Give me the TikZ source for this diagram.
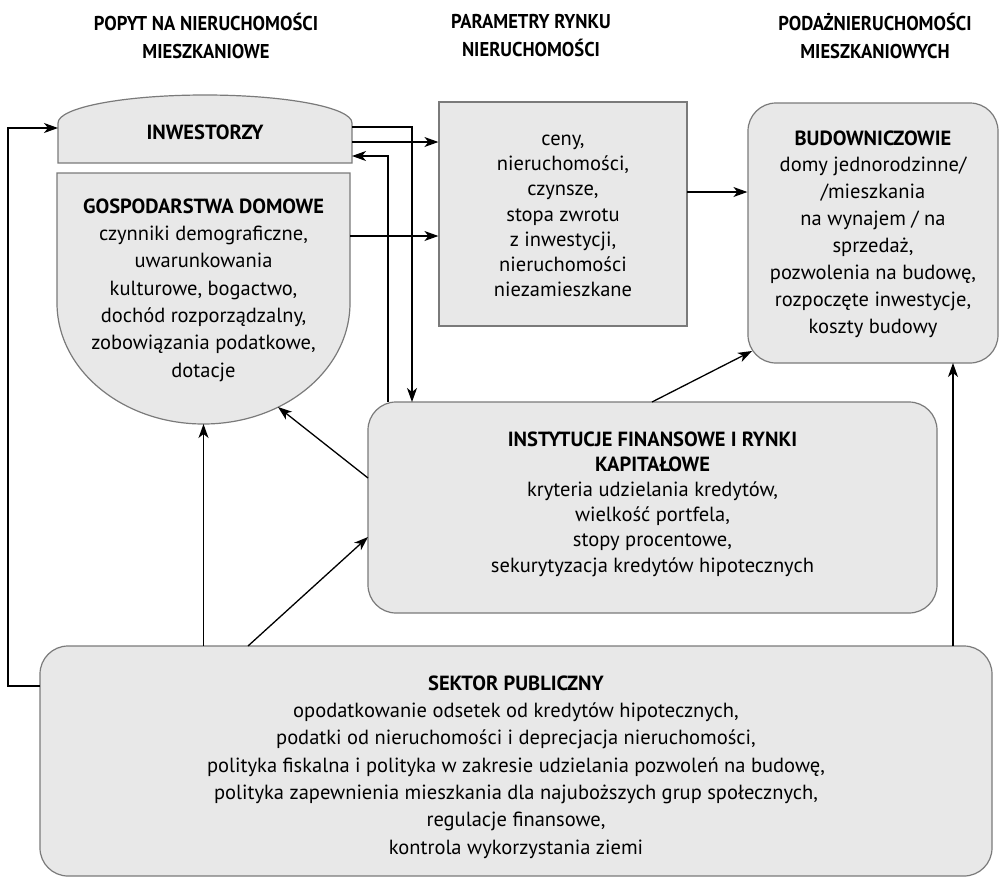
\documentclass[tikz,border=0pt]{standalone}
\usepackage{fontspec}
\setmainfont{PT Sans}
\newfontfamily\headfont[FakeStretch=0.93]{PT Sans}
\usetikzlibrary{arrows.meta,calc}
\definecolor{boxfill}{HTML}{E8E8E8}
\definecolor{boxline}{HTML}{7A7A7A}
\tikzset{
  shapebox/.style={draw=boxline, fill=boxfill, line width=1.2pt, inner sep=0pt},
  roundbox/.style={shapebox, rectangle, rounded corners=28pt},
  bodytext/.style={font=\fontsize{20.5}{27.3}\selectfont, align=center, inner sep=0pt},
  headtext/.style={font=\headfont\bfseries\fontsize{20}{28}\selectfont, align=center, inner sep=0pt},
  arr/.style={draw=black, line width=1.3pt, -{Stealth[length=14pt,width=10pt,inset=4pt]}},
}
\begin{document}
\begin{tikzpicture}[x=1pt,y=-1pt]
\useasboundingbox (0,0) rectangle (999,879);
\fill[white] (0,0) rectangle (999,879);

% headers
\node[headtext] (h1) at (206,36) {POPYT NA NIERUCHOMOŚCI\\MIESZKANIOWE};
\node[headtext] (h2) at (531,36) {PARAMETRY RYNKU\\NIERUCHOMOŚCI};
\node[headtext] (h3) at (875,36) {PODAŻNIERUCHOMOŚCI\\MIESZKANIOWYCH};

% investors shape
\draw[shapebox] (58,163) -- (58,123) .. controls (58,107.5) and (123.8,95) .. (205,95)
  .. controls (286.2,95) and (352,107.5) .. (352,123) -- (352,163) -- cycle;
\node[bodytext, font=\fontsize{20.5}{27}\selectfont\bfseries] (inv) at (205,132) {INWESTORZY};

% households shape
\draw[shapebox] (57,173) -- (350,173) -- (350,303) .. controls (350,369.8) and (284.4,424) .. (203.5,424)
  .. controls (122.6,424) and (57,369.8) .. (57,303) -- cycle;
\node[bodytext] (hh) at (203.5,290) {\textbf{GOSPODARSTWA DOMOWE}\\czynniki demograficzne,\\uwarunkowania\\kulturowe, bogactwo,\\dochód rozporządzalny,\\zobowiązania podatkowe,\\dotacje};

% boxes
\node[shapebox, rectangle, minimum width=248pt, minimum height=224pt] (par) at (563,214) {};
\node[roundbox, minimum width=250pt, minimum height=260pt] (bud) at (873,233) {};
\node[roundbox, minimum width=569pt, minimum height=211pt] (inst) at (652.5,507.5) {};
\node[roundbox, minimum width=952pt, minimum height=230pt] (sec) at (516,761) {};

% box texts
\node[bodytext, font=\fontsize{20.5}{25.2}\selectfont] (partext) at (563,216)
  {ceny,\\nieruchomości,\\czynsze,\\stopa zwrotu\\z inwestycji,\\nieruchomości\\niezamieszkane};
\node[bodytext, font=\fontsize{20.5}{26.9}\selectfont] (budtext) at (873,234)
  {\textbf{BUDOWNICZOWIE}\\domy jednorodzinne/\\/mieszkania\\na wynajem / na\\sprzedaż,\\pozwolenia na budowę,\\rozpoczęte inwestycje,\\koszty budowy};
\node[bodytext, font=\fontsize{20.5}{25.2}\selectfont] (insttext) at (652.5,504)
  {\textbf{INSTYTUCJE FINANSOWE I RYNKI}\\\textbf{KAPITAŁOWE}\\kryteria udzielania kredytów,\\wielkość portfela,\\stopy procentowe,\\sekurytyzacja kredytów hipotecznych};
\node[bodytext] (sectext) at (516,767)
  {\textbf{SEKTOR PUBLICZNY}\\opodatkowanie odsetek od kredytów hipotecznych,\\podatki od nieruchomości i deprecjacja nieruchomości,\\polityka fiskalna i polityka w zakresie udzielania pozwoleń na budowę,\\polityka zapewnienia mieszkania dla najuboższych grup społecznych,\\regulacje finansowe,\\kontrola wykorzystania ziemi};

% connector points
\coordinate (invL) at (58,128);
\coordinate (invR1) at (352,127);
\coordinate (invR2) at (352,142);
\coordinate (invR3) at (352,156);
\coordinate (hhR) at (350,236);
\coordinate (hhB) at (203.5,424);
\coordinate (hhD) at (278,407);
\coordinate (parR) at (687,192);
\coordinate (budC) at (752,351);
\coordinate (budB) at (953,363);
\coordinate (instT1) at (388,402);
\coordinate (instT2) at (412,402);
\coordinate (instT3) at (652,402);
\coordinate (instL1) at (368,478);
\coordinate (instL2) at (368,537);
\coordinate (secL) at (40,686);
\coordinate (secT1) at (203.5,646);
\coordinate (secT2) at (248,646);
\coordinate (secT3) at (953,646);

% connectors
\draw[arr] (secL) -- ++(-32,0) |- (invL);
\draw[arr] (invR1) -| (instT2);
\draw[arr] (invR2) -- (invR2 -| par.west);
\draw[arr] (instT1) |- (invR3);
\draw[arr] (hhR) -- (hhR -| par.west);
\draw[arr] (parR) -- (parR -| bud.west);
\draw[arr] (instT3) -- (budC);
\draw[arr] (instL1) -- (hhD);
\draw[arr] (secT2) -- (instL2);
\draw[arr] (secT1) -- (hhB);
\draw[arr] (secT3) -- (budB);
\end{tikzpicture}
\end{document}
